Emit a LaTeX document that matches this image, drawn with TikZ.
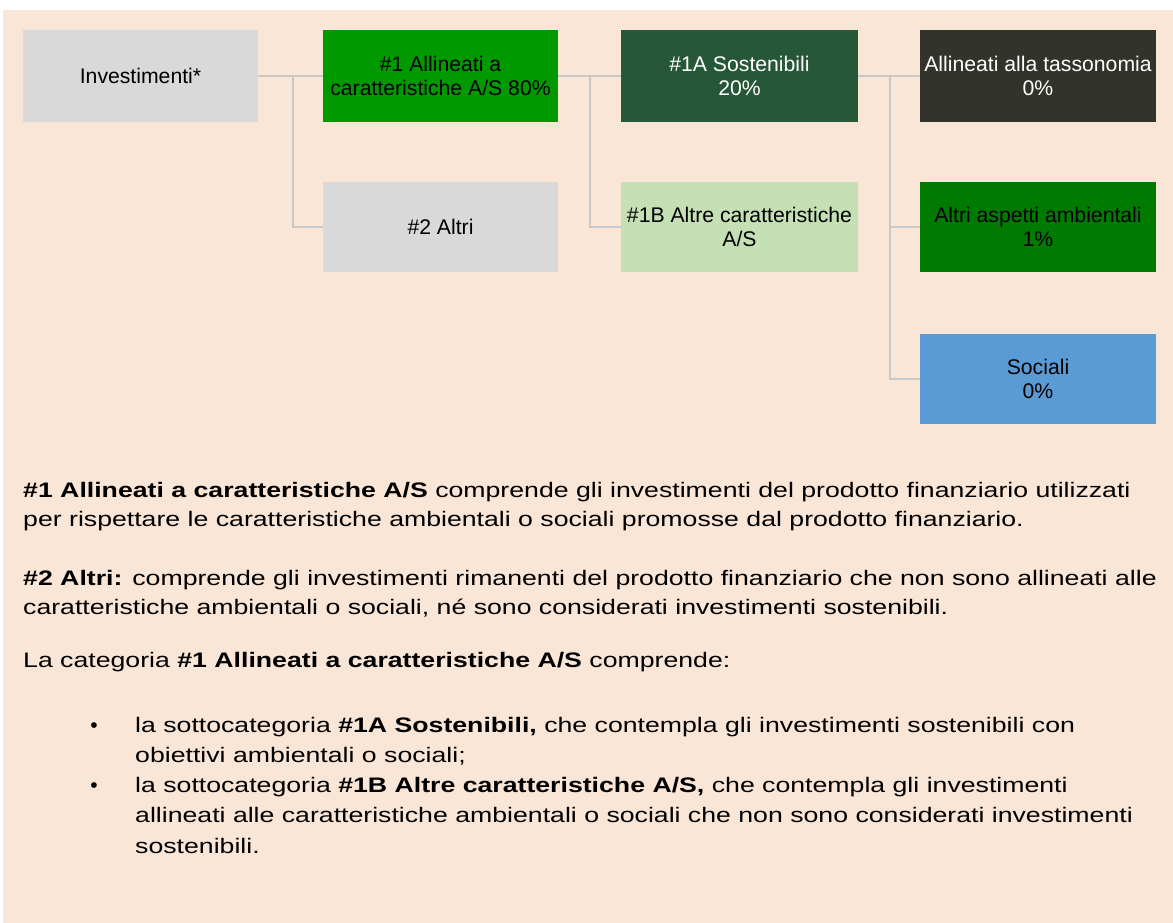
\documentclass[tikz,border=0pt]{standalone}
\usepackage{graphicx}
\usepackage{fontspec}
\setmainfont{Liberation Sans}
\definecolor{bg}{RGB}{250,230,215}
\definecolor{boxgray}{RGB}{217,217,217}
\definecolor{brightgreen}{RGB}{0,153,0}
\definecolor{darkgreen}{RGB}{38,87,57}
\definecolor{palegreen}{RGB}{197,224,180}
\definecolor{darkolive}{RGB}{50,51,43}
\definecolor{midgreen}{RGB}{0,122,0}
\definecolor{socialblue}{RGB}{91,155,213}
\definecolor{linegray}{RGB}{200,200,200}
\newcommand{\wide}[1]{\scalebox{1.27}[1]{#1}}
\begin{document}
\begin{tikzpicture}[x=1pt,y=-1pt,
  catbox/.style={rectangle,minimum width=235pt,minimum height=92pt,inner sep=2pt,align=center,
    font={\fontsize{21.2}{24}\selectfont}},
  link/.style={draw=linegray,line width=1.8pt},
  bodytext/.style={anchor=base west,inner sep=0pt,font={\fontsize{21}{29}\selectfont}},
  bulletmark/.style={anchor=base,inner sep=0pt,font={\fontsize{21}{29}\selectfont}}]
\useasboundingbox (0,0) rectangle (1173,923);
\fill[white] (0,0) rectangle (1173,923);
\fill[bg] (3,10) rectangle (1173,923);
% boxes
\node[catbox,fill=boxgray] (inv) at (140.5,76) {Investimenti*};
\node[catbox,fill=brightgreen] (a1) at (440.5,76) {\#1 Allineati a\\caratteristiche A/S 80\%};
\node[catbox,fill=boxgray,minimum height=90pt] (a2) at (440.5,227) {\#2 Altri};
\node[catbox,fill=darkgreen,text=white,minimum width=237pt] (s1a) at (739.5,76) {\#1A Sostenibili\\20\%};
\node[catbox,fill=palegreen,minimum width=237pt,minimum height=90pt] (s1b) at (739.5,227) {\#1B Altre caratteristiche\\A/S};
\node[catbox,fill=darkolive,text=white,minimum width=236pt] (tax) at (1038,76) {Allineati alla tassonomia\\0\%};
\node[catbox,fill=midgreen,minimum width=236pt,minimum height=90pt] (env) at (1038,227) {Altri aspetti ambientali\\1\%};
\node[catbox,fill=socialblue,minimum width=236pt,minimum height=90pt] (soc) at (1038,379) {Sociali\\0\%};
% junctions
\coordinate (j1) at (293,76);
\coordinate (j2) at (590,76);
\coordinate (j3) at (890,76);
\draw[link] (inv.east) -- (a1.west);
\draw[link] (j1) |- (a2.west);
\draw[link] (a1.east) -- (s1a.west);
\draw[link] (j2) |- (s1b.west);
\draw[link] (s1a.east) -- (tax.west);
\draw[link] (j3) |- (env.west);
\draw[link] (j3) |- (soc.west);
% body text
\node[bodytext] (p1a) at (23,497) {\wide{\textbf{\#1 Allineati a caratteristiche A/S} comprende gli investimenti del prodotto finanziario utilizzati}};
\node[bodytext] (p1b) at (23,526) {\wide{per rispettare le caratteristiche ambientali o sociali promosse dal prodotto finanziario.}};
\node[bodytext] (p2a) at (23,585) {\wide{\textbf{\#2 Altri:} comprende gli investimenti rimanenti del prodotto finanziario che non sono allineati alle}};
\node[bodytext] (p2b) at (23,614) {\wide{caratteristiche ambientali o sociali, né sono considerati investimenti sostenibili.}};
\node[bodytext] (p3) at (23,667) {\wide{La categoria \textbf{\#1 Allineati a caratteristiche A/S} comprende:}};
\node[bulletmark] (b1) at (94,732) {•};
\node[bodytext] (l1a) at (135,732) {\wide{la sottocategoria \textbf{\#1A Sostenibili,} che contempla gli investimenti sostenibili con}};
\node[bodytext] (l1b) at (135,762) {\wide{obiettivi ambientali o sociali;}};
\node[bulletmark] (b2) at (94,792) {•};
\node[bodytext] (l2a) at (135,792) {\wide{la sottocategoria \textbf{\#1B Altre caratteristiche A/S,} che contempla gli investimenti}};
\node[bodytext] (l2b) at (135,822) {\wide{allineati alle caratteristiche ambientali o sociali che non sono considerati investimenti}};
\node[bodytext] (l2c) at (135,853) {\wide{sostenibili.}};
\end{tikzpicture}
\end{document}
